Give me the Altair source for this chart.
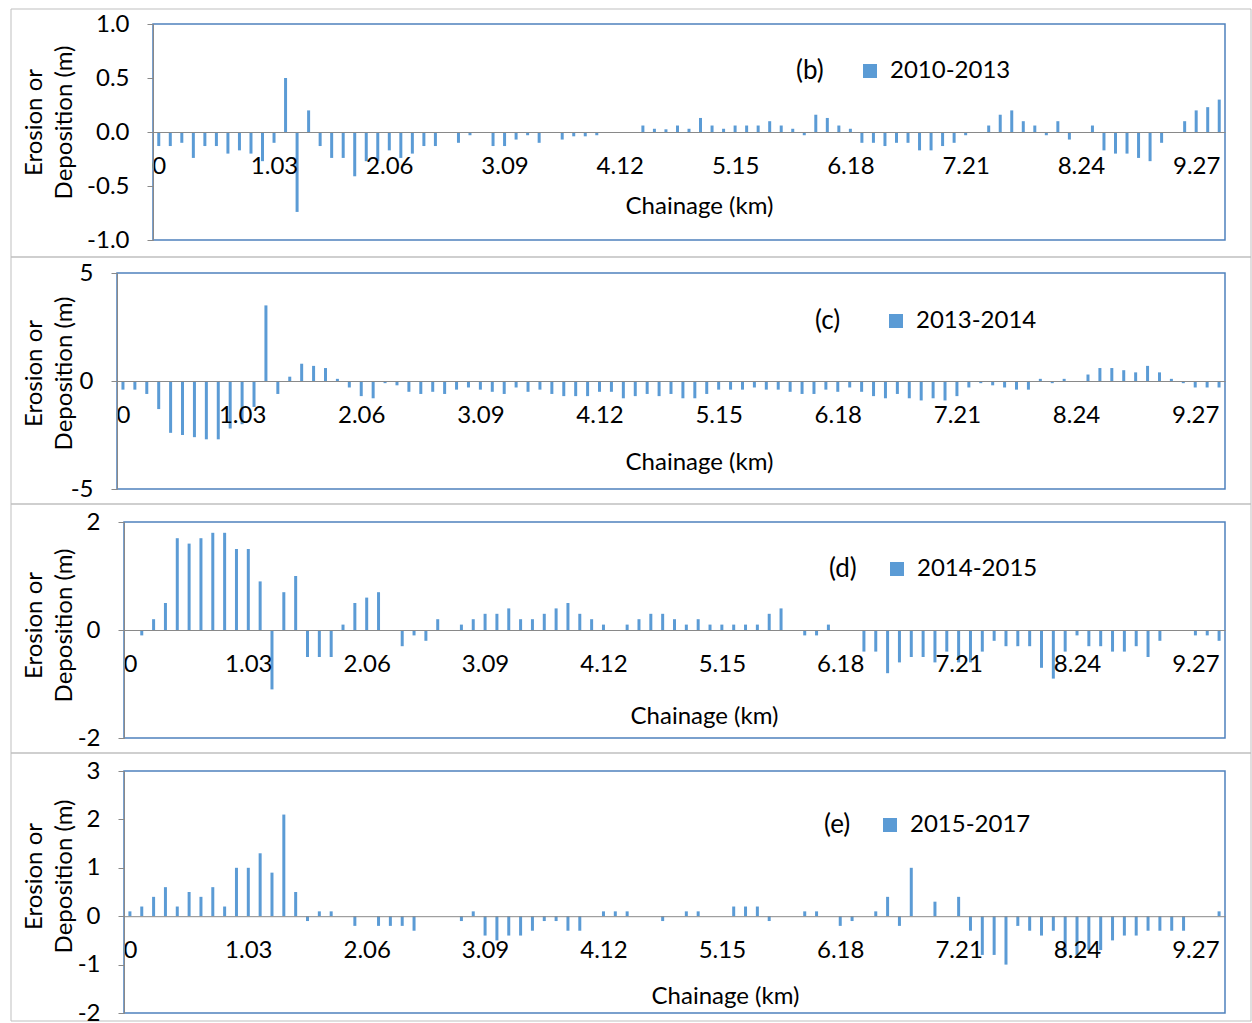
import altair as alt
import pandas as pd

# Chainage categories (km), one every 103 m
chainage = [round(0.103 * i, 3) for i in range(93)]
tick_km = [0, 1.03, 2.06, 3.09, 4.12, 5.15, 6.18, 7.21, 8.24, 9.27]

vals_b = [-0.13, -0.13, -0.1, -0.24, -0.13, -0.13, -0.2, -0.17, -0.2, -0.27,
          -0.1, 0.5, -0.74, 0.2, -0.13, -0.24, -0.24, -0.41, -0.27, -0.27,
          -0.17, -0.24, -0.2, -0.13, -0.13, 0, -0.1, -0.03, 0, -0.13,
          -0.13, -0.07, -0.03, -0.1, 0, -0.07, -0.04, -0.04, -0.03, 0,
          0, 0, 0.06, 0.03, 0.025, 0.06, 0.03, 0.13, 0.06, 0.03,
          0.06, 0.06, 0.06, 0.1, 0.06, 0.03, -0.03, 0.16, 0.13, 0.06,
          0.03, -0.1, -0.1, -0.13, -0.1, -0.1, -0.17, -0.17, -0.13, -0.1,
          -0.03, 0, 0.06, 0.16, 0.2, 0.1, 0.06, -0.03, 0.1, -0.07,
          0, 0.06, -0.17, -0.2, -0.2, -0.24, -0.27, -0.1, 0, 0.1,
          0.2, 0.23, 0.3]

vals_c = [-0.4, -0.4, -0.6, -1.3, -2.4, -2.5, -2.6, -2.7, -2.7, -2.2,
          -2.0, -1.2, 3.5, -0.6, 0.2, 0.8, 0.7, 0.6, 0.1, -0.3,
          -0.7, -0.8, -0.1, -0.2, -0.5, -0.6, -0.5, -0.6, -0.4, -0.3,
          -0.4, -0.5, -0.6, -0.3, -0.5, -0.4, -0.6, -0.7, -0.7, -0.7,
          -0.5, -0.5, -0.8, -0.7, -0.6, -0.7, -0.6, -0.8, -0.8, -0.6,
          -0.4, -0.4, -0.4, -0.3, -0.4, -0.4, -0.5, -0.6, -0.6, -0.4,
          -0.5, -0.3, -0.5, -0.7, -0.8, -0.6, -0.8, -0.9, -0.8, -0.9,
          -0.7, -0.3, -0.1, -0.2, -0.3, -0.4, -0.4, 0.1, -0.1, 0.1,
          0, 0.3, 0.6, 0.6, 0.5, 0.4, 0.7, 0.4, 0.1, -0.1,
          -0.3, -0.3, -0.3]

vals_d = [0, -0.1, 0.2, 0.5, 1.7, 1.6, 1.7, 1.8, 1.8, 1.5,
          1.5, 0.9, -1.1, 0.7, 1.0, -0.5, -0.5, -0.5, 0.1, 0.5,
          0.6, 0.7, 0, -0.3, -0.1, -0.2, 0.2, 0, 0.1, 0.2,
          0.3, 0.3, 0.4, 0.2, 0.2, 0.3, 0.4, 0.5, 0.3, 0.2,
          0.1, 0, 0.1, 0.2, 0.3, 0.3, 0.2, 0.1, 0.2, 0.1,
          0.1, 0.1, 0.1, 0.1, 0.3, 0.4, 0, -0.1, -0.1, 0.1,
          0, 0, -0.4, -0.4, -0.8, -0.6, -0.5, -0.5, -0.6, -0.4,
          -0.6, -0.6, -0.4, -0.2, -0.3, -0.3, -0.3, -0.7, -0.9, -0.4,
          -0.1, -0.3, -0.3, -0.4, -0.4, -0.3, -0.5, -0.2, 0, 0,
          -0.1, -0.1, -0.2]

vals_e = [0.1, 0.2, 0.4, 0.6, 0.2, 0.5, 0.4, 0.6, 0.2, 1.0,
          1.0, 1.3, 0.9, 2.1, 0.5, -0.1, 0.1, 0.1, 0, -0.2,
          0, -0.2, -0.2, -0.2, -0.3, 0, 0, 0, -0.1, 0.1,
          -0.4, -0.5, -0.4, -0.4, -0.3, -0.1, -0.1, -0.3, -0.3, 0,
          0.1, 0.1, 0.1, 0, 0, -0.1, 0, 0.1, 0.1, 0,
          0, 0.2, 0.2, 0.2, -0.1, 0, 0, 0.1, 0.1, 0,
          -0.2, -0.1, 0, 0.1, 0.4, -0.2, 1.0, 0, 0.3, 0,
          0.4, -0.3, -0.8, -0.8, -1.0, -0.2, -0.3, -0.4, -0.3, -0.8,
          -0.8, -0.7, -0.7, -0.5, -0.4, -0.4, -0.3, -0.3, -0.3, -0.3,
          0, 0, 0.1]

BAR = "#5B9BD5"
FRAME = "#4F81BD"
GRAY = "#898989"
BOX = "#BFBFBF"
FONT = "Lato"
FS = 24

ORIGIN = 116          # common left edge of every panel's group (page px)
RIGHT = 1224          # right edge of every plot area (page px)
WIDTH = RIGHT - ORIGIN


def panel(vals, period, tag, ymin, ymax, yticks, ydec, plot_left, height, box_y,
          xtitle_x, xtitle_y, ytitle_x, ytitle_y, leg_x, leg_y, leg_pad):
    df = pd.DataFrame({"km": chainage, "v": vals, "period": period})
    x0 = plot_left - ORIGIN
    xoff = -height * (0 - ymin) / (ymax - ymin)
    fmt = f".{ydec}f"
    ylabel = (f"datum.value < 0 ? '-' + format(-datum.value, '{fmt}') "
              f": format(datum.value, '{fmt}')")
    bars = alt.Chart(df).mark_bar(size=3).encode(
        x=alt.X("km:Q",
                scale=alt.Scale(domain=[-0.0515, 9.5275], range=[x0, WIDTH],
                                nice=False, zero=False, padding=0),
                axis=alt.Axis(values=tick_km, format=".2~f", title="Chainage (km)",
                              offset=xoff, ticks=False, tickSize=0, grid=False,
                              domainColor=GRAY, domainWidth=1,
                              labelPadding=34, labelBaseline="middle",
                              labelFont=FONT, labelFontSize=FS, labelColor="#000000",
                              labelOverlap=False,
                              titleFont=FONT, titleFontSize=FS, titleFontWeight="normal",
                              titleColor="#000000", titleX=xtitle_x - ORIGIN,
                              titleY=xtitle_y, titleBaseline="middle",
                              titleAlign="center", zindex=1)),
        y=alt.Y("v:Q",
                scale=alt.Scale(domain=[ymin, ymax], nice=False, padding=0),
                axis=alt.Axis(values=yticks, labelExpr=ylabel, offset=-x0,
                              title=["Erosion or", "Deposition (m)"],
                              grid=False, domainColor=GRAY, tickColor=GRAY, tickSize=6,
                              labelPadding=18, labelFont=FONT, labelFontSize=FS,
                              labelColor="#000000",
                              titleFont=FONT, titleFontSize=FS, titleFontWeight="normal",
                              titleColor="#000000", titleLineHeight=30,
                              titleX=ytitle_x - plot_left, titleY=ytitle_y, zindex=1)),
        color=alt.Color("period:N", scale=alt.Scale(range=[BAR]),
                        legend=alt.Legend(orient="none", legendX=leg_x - ORIGIN,
                                          legendY=leg_y,
                                          title=f"({tag})", titleOrient="left",
                                          titlePadding=leg_pad, titleFont=FONT,
                                          titleFontSize=26, titleFontWeight="normal",
                                          titleColor="#000000",
                                          labelFont=FONT, labelFontSize=FS,
                                          labelColor="#000000", labelOffset=8,
                                          symbolType="square", symbolSize=196,
                                          symbolStrokeWidth=0, padding=0)),
    )
    one = pd.DataFrame({"k": [0]})
    outer = alt.Chart(one).mark_rect(fillOpacity=0, stroke=BOX, strokeWidth=1).encode(
        x=alt.value(10 - ORIGIN), x2=alt.value(1250 - ORIGIN),
        y=alt.value(box_y[0]), y2=alt.value(box_y[1]))
    border = alt.Chart(one).mark_rect(fillOpacity=0, stroke=FRAME, strokeWidth=1.5).encode(
        x=alt.value(x0), x2=alt.value(WIDTH), y=alt.value(0), y2=alt.value(height))
    return alt.layer(outer, border, bars).properties(width=WIDTH, height=height)


# plot-area left edges in the reference: b 152, c 116, d 123, e 123
pb = panel(vals_b, "2010-2013", "b", -1, 1, [-1, -0.5, 0, 0.5, 1], 1, 152, 216,
           (-15, 233), 698, 74, 45, 98, 795, 35, 34)
pc = panel(vals_c, "2013-2014", "c", -5, 5, [-5, 0, 5], 0, 116, 216,
           (-16, 231), 698, 81, 45, 100, 814, 36, 43)
pd_ = panel(vals_d, "2014-2015", "d", -2, 2, [-2, 0, 2], 0, 123, 216,
            (-18, 231), 703, 86, 45, 103, 828, 35, 28)
pe = panel(vals_e, "2015-2017", "e", -2, 3, [-2, -1, 0, 1, 2, 3], 0, 123, 242,
           (-18, 250), 724, 80, 45, 105, 823, 42, 27)

chart = alt.vconcat(pb, pc, pd_, pe, spacing=33, bounds="flush").resolve_scale(
    x="independent", y="independent", color="independent"
).resolve_legend(color="independent").properties(
    padding={"left": 10, "top": 8, "right": 0, "bottom": 0},
    background="white",
).configure_view(stroke="transparent")

chart.save("out.html", embed_options={"renderer": "svg", "actions": False})
